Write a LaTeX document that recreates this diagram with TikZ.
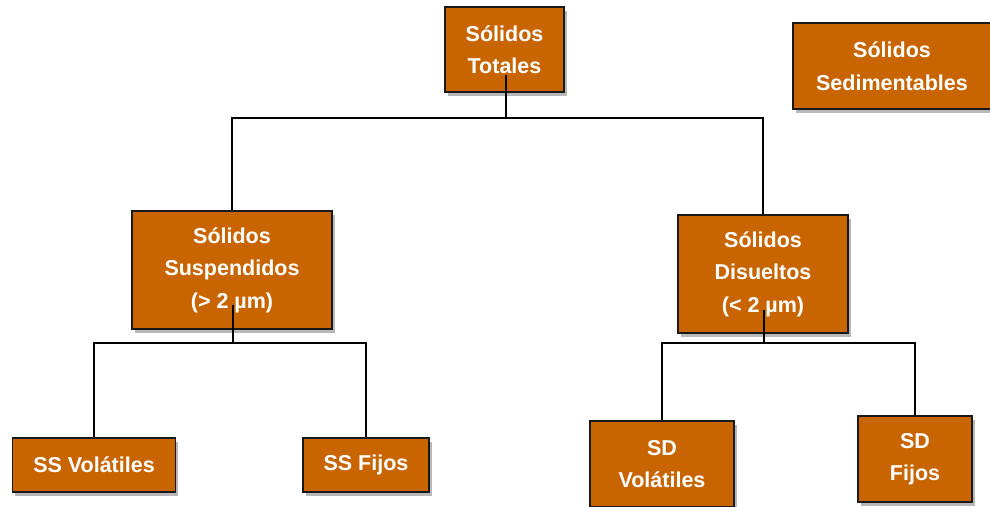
\documentclass[tikz,border=0pt]{standalone}
\usepackage{fontspec}
\setmainfont{Liberation Sans}
\usetikzlibrary{shadows}
\definecolor{boxorange}{RGB}{200,101,0}
\definecolor{boxline}{RGB}{25,25,25}
\tikzset{
  solbox/.style={draw=boxline, line width=1.6pt, fill=boxorange, text=white,
    align=center, inner sep=0pt,
    font=\fontsize{21.5}{32.5}\selectfont\bfseries,
    drop shadow={shadow xshift=2.5pt, shadow yshift=-3.5pt, fill=black, opacity=0.28}},
  link/.style={draw=black, line width=1.6pt}
}
\begin{document}
\begin{tikzpicture}[x=1pt,y=-1pt]
\useasboundingbox (0,0) rectangle (990,506);
% nodes
\node[solbox, minimum width=119pt, minimum height=85pt] (tot) at (504.5,49.5) {Sólidos\\Totales};
\node[solbox, minimum width=198pt, minimum height=86pt] (sed) at (892,66) {Sólidos\\Sedimentables};
\node[solbox, minimum width=200pt, minimum height=118pt] (ss) at (232,270) {Sólidos\\Suspendidos\\(> 2 µm)};
\node[solbox, minimum width=170pt, minimum height=118pt] (sd) at (763,274) {Sólidos\\Disueltos\\(< 2 µm)};
\node[solbox, minimum width=163pt, minimum height=54pt] (ssv) at (94,465) {SS Volátiles};
\node[solbox, minimum width=126pt, minimum height=54pt] (ssf) at (366,465) {SS Fijos};
\node[solbox, minimum width=144pt, minimum height=86pt] (sdv) at (662,464) {SD\\Volátiles};
\node[solbox, minimum width=114pt, minimum height=86pt] (sdf) at (915,459) {SD\\Fijos};
% junction coordinates
\coordinate (totstem) at (506,75);
\coordinate (tj) at (506,118);
\coordinate (ssstem) at (233,305);
\coordinate (sj) at (233,343);
\coordinate (sdstem) at (764,310);
\coordinate (dj) at (764,343);
% connectors
\draw[link] (totstem) -- (tj);
\draw[link] (ss.north) |- (tj);
\draw[link] (sd.north) |- (tj);
\draw[link] (ssstem) -- (sj);
\draw[link] (ssv.north) |- (sj);
\draw[link] (ssf.north) |- (sj);
\draw[link] (sdstem) -- (dj);
\draw[link] (sdv.north) |- (dj);
\draw[link] (sdf.north) |- (dj);
\end{tikzpicture}
\end{document}
